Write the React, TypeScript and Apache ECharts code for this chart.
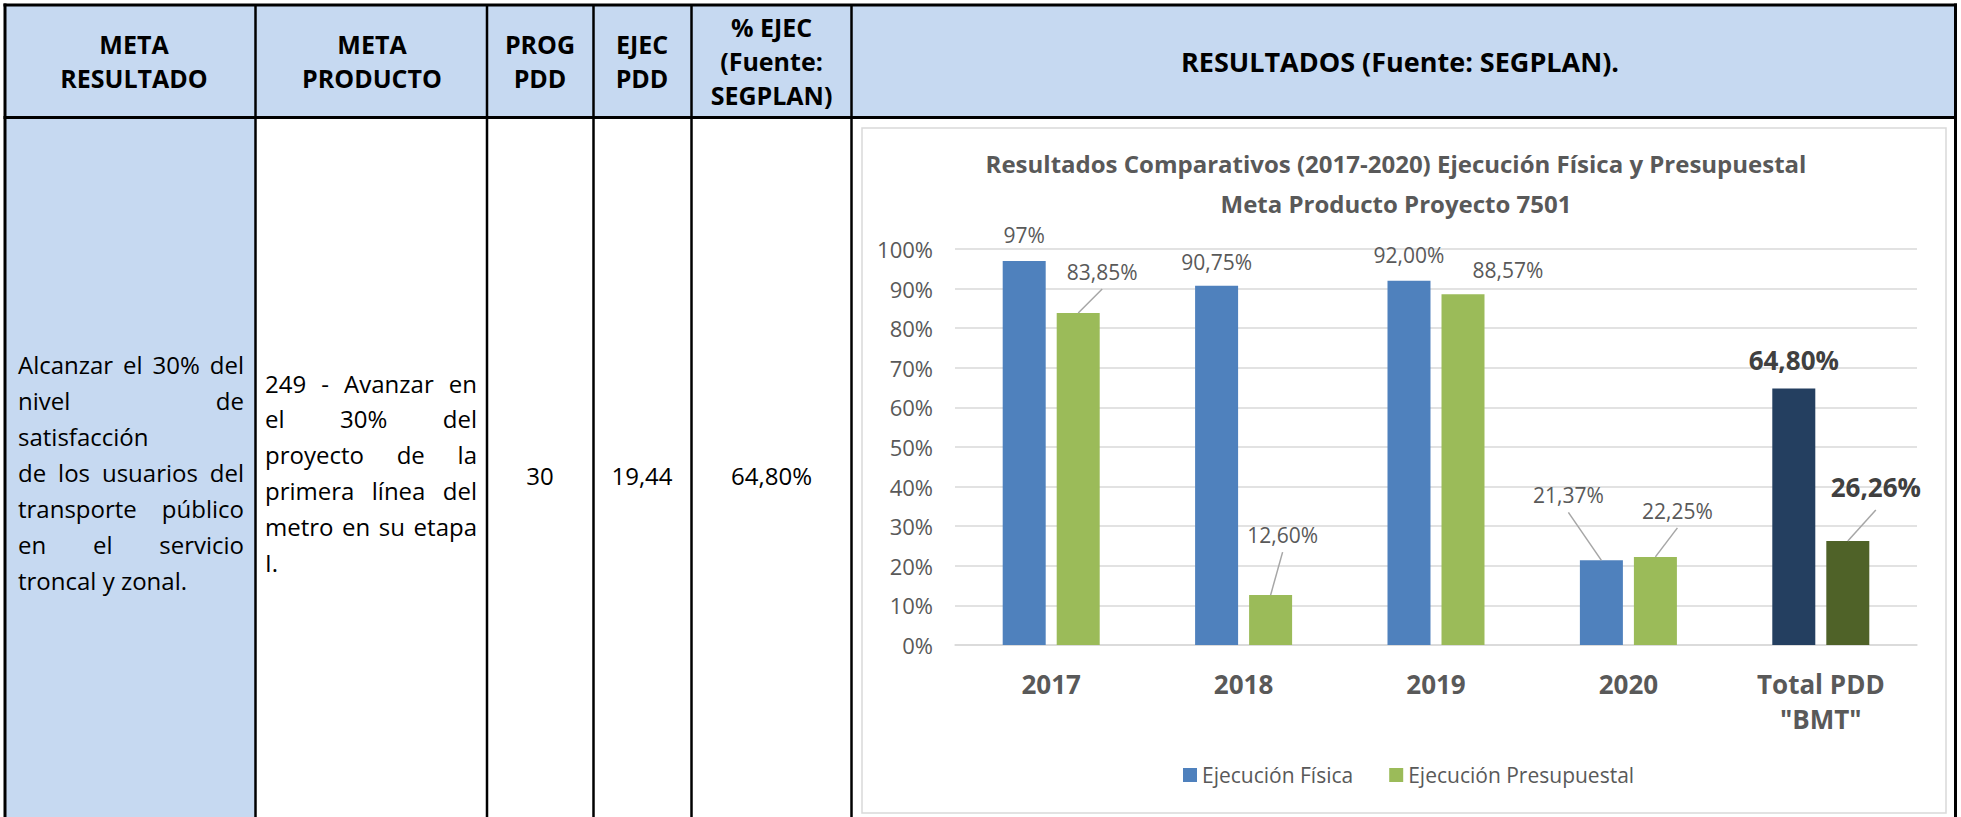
import React, { useEffect, useRef } from "react";
import * as echarts from "echarts";

// ---------- data ----------
const categories = ["2017", "2018", "2019", "2020", 'Total PDD\n"BMT"'];
const seriesNames = ["Ejecución Física", "Ejecución Presupuestal"];
const fisica = [97, 90.75, 92.0, 21.37, 64.8];
const presupuestal = [83.85, 12.6, 88.57, 22.25, 26.26];
const fisicaLabels = ["97%", "90,75%", "92,00%", "21,37%", "64,80%"];
const presupuestalLabels = ["83,85%", "12,60%", "88,57%", "22,25%", "26,26%"];
const yMin = 0;
const yMax = 100;
const yStep = 10;

const chartTitle =
  "Resultados Comparativos (2017-2020) Ejecución Física y Presupuestal\nMeta Producto Proyecto 7501";

const headers = [
  "META\nRESULTADO",
  "META\nPRODUCTO",
  "PROG\nPDD",
  "EJEC\nPDD",
  "% EJEC\n(Fuente:\nSEGPLAN)",
  "RESULTADOS (Fuente: SEGPLAN).",
];
const metaResultado = [
  "Alcanzar el 30% del",
  "nivel de",
  "satisfacción",
  "de los usuarios del",
  "transporte público",
  "en el servicio",
  "troncal y zonal.",
];
const metaResultadoJustify = [true, true, false, true, true, true, false];
const metaProducto = [
  "249 - Avanzar en",
  "el 30% del",
  "proyecto de la",
  "primera línea del",
  "metro en su etapa",
  "I.",
];
const metaProductoJustify = [true, true, true, true, true, false];
const progPdd = "30";
const ejecPdd = "19,44";
const pctEjec = "64,80%";

// ---------- styles ----------
const FONT = "'Open Sans', 'Noto Sans', sans-serif";
const HEADER_BG = "#C6D9F1";
const BLUE = "#4F81BD";
const GREEN = "#9BBB59";
const NAVY = "#243F60";
const DARKGREEN = "#4F6228";
const GREY_TEXT = "#595959";
const BAR_W = 43;
const BAR_SHIFT = 27;
const LABEL_SIZE = 21;
const LABEL_LH = 24;
const labelOffsets = [
  [[0, -9], [0, -7], [0, -9], [-33, -48], [0, -8]],
  [[24, -24], [12, -43], [45, -7], [22, -29], [28, -34]],
];
const leaderShown = [
  [false, false, false, true, false],
  [true, true, false, true, true],
];

export default function App() {
  const ref = useRef<HTMLDivElement>(null);

  useEffect(() => {
    const el = ref.current;
    if (!el) return;
    const chart = echarts.init(el, null, { renderer: "svg" });

    const cv = document.createElement("canvas");
    const ctx = cv.getContext("2d")!;
    const measure = (t: string, size: number, weight = "normal") => {
      ctx.font = `${weight} ${size}px "Open Sans"`;
      return ctx.measureText(t).width;
    };

    const g: any[] = [];
    // fills
    g.push({ type: "rect", z: -10, shape: { x: 5, y: 5, width: 1950, height: 113 }, style: { fill: HEADER_BG } });
    g.push({ type: "rect", z: -10, shape: { x: 5, y: 118, width: 250, height: 700 }, style: { fill: HEADER_BG } });
    g.push({
      type: "rect",
      z: -9,
      shape: { x: 862, y: 128, width: 1084, height: 685 },
      style: { fill: "#FFFFFF", stroke: "#D9D9D9", lineWidth: 1.5 },
    });
    // table lines
    const black = { stroke: "#000000", lineWidth: 3 };
    g.push({ type: "line", z: 10, shape: { x1: 3.5, y1: 5, x2: 1957, y2: 5 }, style: black });
    g.push({ type: "line", z: 10, shape: { x1: 3.5, y1: 117.5, x2: 1957, y2: 117.5 }, style: black });
    g.push({ type: "line", z: 10, shape: { x1: 5, y1: 3.5, x2: 5, y2: 817 }, style: black });
    g.push({ type: "line", z: 10, shape: { x1: 1955.5, y1: 3.5, x2: 1955.5, y2: 817 }, style: black });
    [255.5, 487, 593.5, 691.5, 851.5].forEach((x) =>
      g.push({ type: "line", z: 10, shape: { x1: x, y1: 5, x2: x, y2: 817 }, style: { stroke: "#000", lineWidth: 2.5 } })
    );

    // header texts
    const headerX = [134, 372, 540, 642, 771.5, 1400];
    headers.forEach((t, i) =>
      g.push({
        type: "text",
        z: 11,
        x: headerX[i],
        y: 61,
        style: {
          text: t,
          fill: "#000000",
          fontFamily: FONT,
          fontSize: i === 5 ? 27 : 25,
          fontWeight: "bold",
          lineHeight: 34,
          align: "center",
          verticalAlign: "middle",
          textAlign: "center",
          textVerticalAlign: "middle",
        },
      })
    );

    // justified paragraph lines
    const addLines = (lines: string[], justify: boolean[], x0: number, x1: number, y0: number, lh: number) => {
      lines.forEach((line, li) => {
        const y = y0 + li * lh;
        const words = line.split(" ");
        const base = {
          fill: "#000000",
          fontFamily: FONT,
          fontSize: 24,
          align: "left",
          verticalAlign: "middle",
          textAlign: "left",
          textVerticalAlign: "middle",
        };
        if (!justify[li] || words.length < 2) {
          g.push({ type: "text", z: 11, x: x0, y, style: { ...base, text: line } });
          return;
        }
        const widths = words.map((w) => measure(w, 24));
        const total = widths.reduce((a, b) => a + b, 0);
        const gap = (x1 - x0 - total) / (words.length - 1);
        let x = x0;
        words.forEach((w, wi) => {
          g.push({ type: "text", z: 11, x, y, style: { ...base, text: w } });
          x += widths[wi] + gap;
        });
      });
    };
    addLines(metaResultado, metaResultadoJustify, 18, 244, 364, 36);
    addLines(metaProducto, metaProductoJustify, 265, 477, 383, 35.8);

    [
      [progPdd, 540],
      [ejecPdd, 642],
      [pctEjec, 771.5],
    ].forEach(([t, x]) =>
      g.push({
        type: "text",
        z: 11,
        x: x as number,
        y: 475,
        style: {
          text: t as string,
          fill: "#000000",
          fontFamily: FONT,
          fontSize: 24,
          align: "center",
          verticalAlign: "middle",
          textAlign: "center",
          textVerticalAlign: "middle",
        },
      })
    );

    const makeItems = (vals: number[], labels: string[], s: number) =>
      vals.map((v, i) => {
        const total = i === 4;
        const item: any = {
          value: v,
          label: {
            show: true,
            position: "top",
            distance: 5,
            offset: labelOffsets[s][i],
            formatter: labels[i],
            fontFamily: FONT,
            fontSize: total ? 26 : LABEL_SIZE,
            lineHeight: total ? 30 : LABEL_LH,
            fontWeight: total ? "bold" : "normal",
            color: total ? "#404040" : GREY_TEXT,
          },
        };
        if (total) item.itemStyle = { color: s === 0 ? NAVY : DARKGREEN };
        return item;
      });

    const leaderData: number[][] = [];
    [fisica, presupuestal].forEach((vals, s) =>
      vals.forEach((v, i) => {
        if (leaderShown[s][i]) leaderData.push([i, v, s]);
      })
    );

    chart.setOption({
      animation: false,
      backgroundColor: "#FFFFFF",
      title: {
        text: chartTitle,
        left: 1396,
        top: 143,
        padding: 0,
        textAlign: "center",
        textStyle: {
          fontFamily: FONT,
          fontSize: 24,
          fontWeight: "bold",
          color: GREY_TEXT,
          lineHeight: 40,
        },
      },
      legend: {
        data: seriesNames,
        left: 1183,
        top: 763,
        padding: 0,
        icon: "rect",
        itemWidth: 14,
        itemHeight: 14,
        itemGap: 36,
        textStyle: { fontFamily: FONT, fontSize: 21, color: GREY_TEXT, lineHeight: 24 },
      },
      grid: { left: 955, right: 44, top: 249, bottom: 172, containLabel: false },
      xAxis: {
        type: "category",
        data: categories,
        axisTick: { show: false },
        axisLine: { show: true, lineStyle: { color: "#D9D9D9", width: 1.5 } },
        axisLabel: {
          interval: 0,
          margin: 21,
          fontFamily: FONT,
          fontSize: 26,
          fontWeight: "bold",
          color: GREY_TEXT,
          lineHeight: 35,
        },
      },
      yAxis: {
        type: "value",
        min: yMin,
        max: yMax,
        interval: yStep,
        axisLine: { show: false },
        axisTick: { show: false },
        axisLabel: {
          formatter: "{value}%",
          margin: 22,
          fontFamily: FONT,
          fontSize: 22,
          color: GREY_TEXT,
        },
        splitLine: { lineStyle: { color: "#D9D9D9", width: 1.5 } },
      },
      graphic: { elements: g },
      series: [
        {
          name: seriesNames[0],
          type: "bar",
          barWidth: BAR_W,
          barGap: "25.6%",
          itemStyle: { color: BLUE },
          data: makeItems(fisica, fisicaLabels, 0),
        },
        {
          name: seriesNames[1],
          type: "bar",
          barWidth: BAR_W,
          barGap: "25.6%",
          itemStyle: { color: GREEN },
          data: makeItems(presupuestal, presupuestalLabels, 1),
        },
        {
          type: "custom",
          silent: true,
          z: 3,
          data: leaderData,
          encode: { x: 0, y: 1 },
          renderItem: (params: any, api: any) => {
            const cat = api.value(0);
            const val = api.value(1);
            const s = api.value(2);
            const p = api.coord([cat, val]);
            const bx = p[0] + (s === 0 ? -BAR_SHIFT : BAR_SHIFT);
            const off = labelOffsets[s][cat];
            const bold = cat === 4;
            const half = bold ? 15 : LABEL_LH / 2;
            const lx = bx + off[0];
            const ly = p[1] - 5 - half + off[1] + (bold ? 23 : 17);
            return {
              type: "line",
              shape: { x1: bx, y1: p[1], x2: lx, y2: ly },
              style: { stroke: "#A6A6A6", lineWidth: 1.5 },
            };
          },
        },
      ],
    });

    return () => chart.dispose();
  }, []);

  return (
    <div
      ref={ref}
      style={{ position: "absolute", left: 0, top: 0, width: 1961, height: 817, background: "#fff" }}
    />
  );
}
